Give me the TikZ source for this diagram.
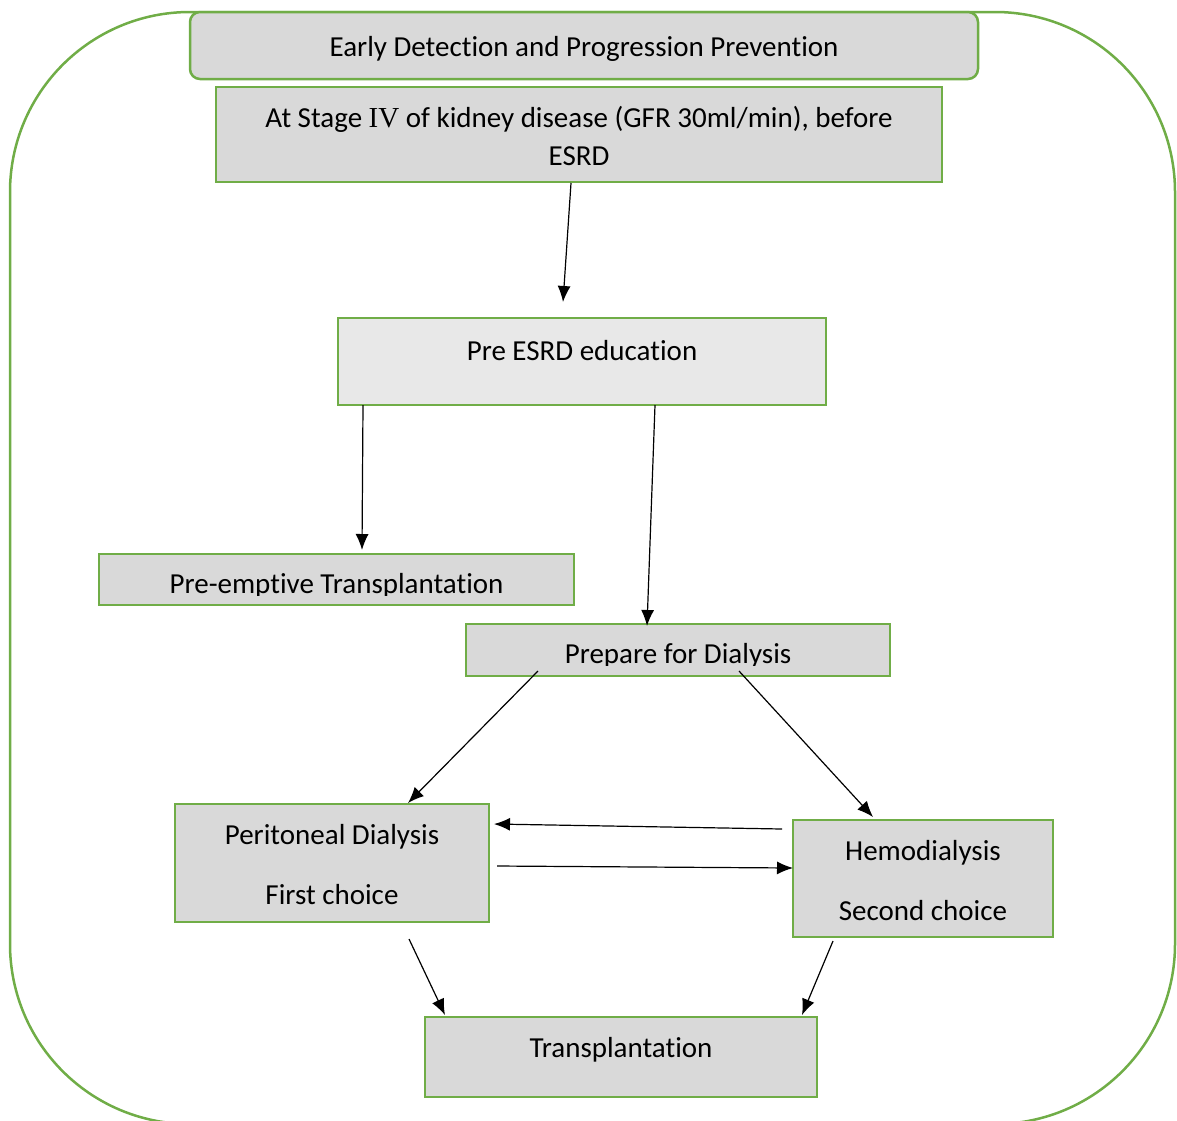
\documentclass[tikz,border=0pt]{standalone}
\usepackage{fontspec}
\setmainfont{Carlito}[Ligatures={NoCommon,NoRare,NoContextual}]
\newfontfamily\romfont{Liberation Serif}
\usetikzlibrary{arrows.meta,calc}
\definecolor{grn}{HTML}{70AD47}
\definecolor{boxgray}{HTML}{D9D9D9}
\definecolor{boxlight}{HTML}{E8E8E8}
\begin{document}
\begin{tikzpicture}[x=1pt,y=-1pt,
  box/.style={draw=grn,line width=2.5pt,fill=boxgray,inner sep=0pt,outer sep=0pt},
  txt/.style={anchor=base,inner sep=0pt,outer sep=0pt,font=\fontsize{29}{36}\selectfont},
  conn/.style={line width=1.2pt,-{Latex[length=16pt,width=13pt]}}]
\useasboundingbox (0,0) rectangle (1177,1120);
\begin{scope}
\clip (0,0) rectangle (1177,1120);
\draw[grn,line width=2.5pt,rounded corners=180pt] (10,12) rectangle (1175,1124);
\end{scope}
% boxes
\node[box,rounded corners=10pt,minimum width=788pt,minimum height=67pt] (b1) at (584,45.5) {};
\node[box,minimum width=726pt,minimum height=95pt] (b2) at (579,134.5) {};
\node[box,fill=boxlight,minimum width=488pt,minimum height=87pt] (b3) at (582,361.5) {};
\node[box,minimum width=475pt,minimum height=51pt] (b4) at (336.5,579.5) {};
\node[box,minimum width=424pt,minimum height=52pt] (b5) at (678,650) {};
\node[box,minimum width=314pt,minimum height=118pt] (b6) at (332,863) {};
\node[box,minimum width=260pt,minimum height=117pt] (b7) at (923,878.5) {};
\node[box,minimum width=392pt,minimum height=80pt] (b8) at (621,1057) {};
% texts
\node[txt] (t1) at (584,56) {Early Detection and Progression Prevention};
\node[txt] (t2a) at (579,127) {At Stage {\romfont IV} of kidney disease (GFR 30ml/min), before};
\node[txt] (t2b) at (579,165) {ESRD};
\node[txt] (t3) at (582,360) {Pre ESRD education};
\begin{scope}
\clip (99,554) rectangle (574,595);
\node[txt] (t4) at (336.5,593) {Pre-emptive Transplantation};
\end{scope}
\begin{scope}
\clip (466,624) rectangle (890,665);
\node[txt] (t5) at (678,663) {Prepare for Dialysis};
\end{scope}
\node[txt] (t6a) at (332,844) {Peritoneal Dialysis};
\node[txt] (t6b) at (332,904) {First choice};
\node[txt] (t7a) at (923,860) {Hemodialysis};
\node[txt] (t7b) at (923,920) {Second choice};
\node[txt] (t8) at (621,1057) {Transplantation};
% connectors
\draw[conn] ($(b2.south)+(-8,1)$) -- ($(b3.north)+(-19,-16)$);
\draw[conn] ($(b3.south)+(-219,0)$) -- ($(b4.north)+(25.5,-4)$);
\draw[conn] ($(b3.south)+(73,0)$) -- ($(b5.north)+(-31,2)$);
\draw[conn] ($(b5.south)+(-140,-5)$) -- ($(b6.north)+(76,-1)$);
\draw[conn] ($(b5.south)+(61,-5)$) -- ($(b7.north)+(-50,-3)$);
\draw[conn] ($(b7.west)+(-11,-49.5)$) -- ($(b6.east)+(5,-39)$);
\draw[conn] ($(b6.east)+(8,3)$) -- ($(b7.west)+(0,-10.5)$);
\draw[conn] ($(b6.south)+(77,17)$) -- ($(b8.north)+(-176,-2)$);
\draw[conn] ($(b7.south)+(-90,4)$) -- ($(b8.north)+(181,-2)$);
\end{tikzpicture}
\end{document}
